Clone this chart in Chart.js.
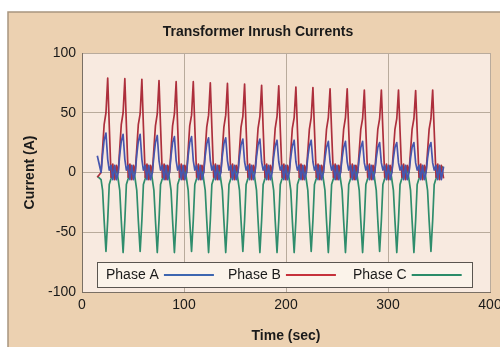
<!DOCTYPE html>
<html>
<head>
<meta charset="utf-8">
<script src="https://cdn.jsdelivr.net/npm/chart.js@4.4.1/dist/chart.umd.min.js"></script>
<style>
  html, body { margin: 0; padding: 0; background: #fff; }
  canvas { display: block; }
</style>
</head>
<body>
<canvas id="chart-inrush" width="500" height="347"></canvas>
<script>
// Sample times (sec), one row per cycle
const timeSec = [
  15.0,
  18.7, 20.2, 21.7, 23.5, 25.2, 26.7, 28.5, 30.2, 32.0, 33.7,
  35.5, 37.0, 38.5, 40.3, 42.0, 43.5, 45.3, 47.0, 48.8, 50.5,
  52.2, 53.7, 55.2, 57.0, 58.7, 60.2, 62.0, 63.7, 65.5, 67.2,
  69.0, 70.5, 72.0, 73.8, 75.5, 77.0, 78.8, 80.5, 82.3, 84.0,
  85.8, 87.3, 88.8, 90.6, 92.3, 93.8, 95.6, 97.3, 99.1, 100.8,
  102.6, 104.1, 105.6, 107.4, 109.1, 110.6, 112.4, 114.1, 115.9, 117.6,
  119.3, 120.8, 122.3, 124.1, 125.8, 127.3, 129.1, 130.8, 132.6, 134.3,
  136.1, 137.6, 139.1, 140.9, 142.6, 144.1, 145.9, 147.6, 149.4, 151.1,
  152.9, 154.4, 155.9, 157.7, 159.4, 160.9, 162.7, 164.4, 166.2, 167.9,
  169.6, 171.1, 172.6, 174.4, 176.1, 177.6, 179.4, 181.1, 182.9, 184.6,
  186.4, 187.9, 189.4, 191.2, 192.9, 194.4, 196.2, 197.9, 199.7, 201.4,
  203.2, 204.7, 206.2, 208.0, 209.7, 211.2, 213.0, 214.7, 216.5, 218.2,
  219.9, 221.4, 222.9, 224.7, 226.4, 227.9, 229.7, 231.4, 233.2, 234.9,
  236.7, 238.2, 239.7, 241.5, 243.2, 244.7, 246.5, 248.2, 250.0, 251.7,
  253.5, 255.0, 256.5, 258.3, 260.0, 261.5, 263.3, 265.0, 266.8, 268.5,
  270.3, 271.8, 273.3, 275.1, 276.8, 278.3, 280.1, 281.8, 283.6, 285.3,
  287.0, 288.5, 290.0, 291.8, 293.5, 295.0, 296.8, 298.5, 300.3, 302.0,
  303.8, 305.3, 306.8, 308.6, 310.3, 311.8, 313.6, 315.3, 317.1, 318.8,
  320.6, 322.1, 323.6, 325.4, 327.1, 328.6, 330.4, 332.1, 333.9, 335.6,
  337.3, 338.8, 340.3, 342.1, 343.8, 345.3, 347.1, 348.8, 350.6, 352.3,
  354.5
];

// Phase A (A)
const phaseA = [
  14,
  0, 15, 27, 33, 11, 2, 6, -6, 6, -6,
  0, 15, 26, 32, 11, 2, 6, -6, 6, -6,
  0, 15, 26, 32, 11, 2, 6, -6, 6, -6,
  0, 14, 25, 31, 10, 2, 6, -6, 6, -6,
  0, 14, 25, 30, 10, 2, 6, -6, 6, -6,
  0, 14, 25, 30, 10, 2, 6, -6, 6, -6,
  0, 14, 24, 29, 10, 2, 6, -6, 6, -6,
  0, 14, 24, 29, 10, 2, 6, -6, 6, -6,
  0, 13, 23, 28, 9, 2, 6, -6, 6, -6,
  0, 13, 23, 28, 9, 2, 6, -6, 6, -6,
  0, 13, 22, 27, 9, 2, 6, -6, 6, -6,
  0, 13, 22, 27, 9, 2, 6, -6, 6, -6,
  0, 13, 22, 27, 9, 2, 6, -6, 6, -6,
  0, 12, 21, 26, 9, 2, 6, -6, 6, -6,
  0, 12, 21, 26, 9, 2, 6, -6, 6, -6,
  0, 12, 21, 26, 8, 2, 6, -6, 6, -6,
  0, 12, 21, 25, 8, 2, 6, -6, 6, -6,
  0, 12, 21, 25, 8, 2, 6, -6, 6, -6,
  0, 12, 21, 25, 8, 2, 6, -6, 6, -6,
  0, 12, 21, 25, 8, 2, 6, -6, 6, -6,
  5
];

// Phase B (A)
const phaseB = [
  -4,
  0, 20, 40, 50, 79, 40, -4, 7, -6, 6,
  0, 20, 40, 50, 78.5, 40, -4, 7, -6, 6,
  0, 20, 40, 49, 78, 39, -4, 7, -6, 6,
  0, 20, 39, 49, 77, 39, -4, 7, -6, 6,
  0, 19, 39, 49, 76, 38, -4, 7, -6, 6,
  0, 19, 39, 48, 76, 38, -4, 7, -6, 6,
  0, 19, 38, 48, 75, 38, -4, 7, -6, 6,
  0, 19, 38, 48, 74.5, 37, -4, 7, -6, 6,
  0, 19, 38, 47, 74, 37, -4, 7, -6, 6,
  0, 18, 37, 47, 73, 37, -4, 7, -6, 6,
  0, 18, 37, 47, 72.5, 36, -4, 7, -6, 6,
  0, 18, 37, 46, 71.5, 36, -4, 7, -6, 6,
  0, 18, 36, 46, 71, 36, -4, 7, -6, 6,
  0, 18, 36, 46, 70, 35, -4, 7, -6, 6,
  0, 18, 36, 46, 70, 35, -4, 7, -6, 6,
  0, 18, 36, 45, 69, 35, -4, 7, -6, 6,
  0, 18, 36, 45, 69, 35, -4, 7, -6, 6,
  0, 18, 36, 45, 69, 35, -4, 7, -6, 6,
  0, 18, 36, 45, 68.5, 35, -4, 7, -6, 6,
  0, 18, 36, 45, 69, 35, -4, 7, -6, 6,
  -5
];

// Phase C (A)
const phaseC = [
  -3,
  -6, -15, -40, -66, -40, -10, -5, 5, -5, 5,
  -6, -15, -40, -67, -40, -10, -5, 5, -5, 5,
  -6, -15, -40, -66, -40, -10, -5, 5, -5, 5,
  -6, -15, -40, -67, -40, -10, -5, 5, -5, 5,
  -6, -15, -40, -67, -40, -10, -5, 5, -5, 5,
  -6, -15, -40, -66, -40, -10, -5, 5, -5, 5,
  -6, -15, -40, -67, -40, -10, -5, 5, -5, 5,
  -6, -15, -40, -67, -40, -10, -5, 5, -5, 5,
  -6, -15, -40, -66, -40, -10, -5, 5, -5, 5,
  -6, -15, -40, -67, -40, -10, -5, 5, -5, 5,
  -6, -15, -40, -67, -40, -10, -5, 5, -5, 5,
  -6, -15, -40, -67, -40, -10, -5, 5, -5, 5,
  -6, -15, -40, -66, -40, -10, -5, 5, -5, 5,
  -6, -15, -40, -67, -40, -10, -5, 5, -5, 5,
  -6, -15, -40, -67, -40, -10, -5, 5, -5, 5,
  -6, -15, -40, -67, -40, -10, -5, 5, -5, 5,
  -6, -15, -40, -66, -40, -10, -5, 5, -5, 5,
  -6, -15, -40, -67, -40, -10, -5, 5, -5, 5,
  -6, -15, -40, -67, -40, -10, -5, 5, -5, 5,
  -6, -15, -40, -66, -40, -10, -5, 5, -5, 5,
  4
];

const seriesLabels = ['Phase A', 'Phase B', 'Phase C'];
const xTicks = [0, 100, 200, 300, 400];
const yTicks = [-100, -50, 0, 50, 100];

const COLORS = {
  panel: '#ecd1b1',
  panelEdge: '#a8957f',
  plot: '#f8eae0',
  grid: '#b9ab9c',
  axis: '#7a6f64',
  text: '#1a1a1a',
  phaseA: '#4656ae',
  phaseB: '#ad2f3c',
  phaseC: '#2f8d6c',
  legendA: '#3d66b0',
  legendB: '#c6313b',
  legendC: '#2a8c69',
};

const toPoints = vals => timeSec.map((t, i) => ({ x: t, y: vals[i] }));

// ── backgrounds: tan panel + cream plot area ──────────────────────
const backgroundPlugin = {
  id: 'panelBackground',
  beforeDraw(chart) {
    const { ctx, chartArea: a } = chart;
    ctx.save();
    ctx.fillStyle = COLORS.panel;
    ctx.fillRect(8, 12, chart.width - 8, chart.height - 12);
    ctx.strokeStyle = COLORS.panelEdge;
    ctx.lineWidth = 1.5;
    ctx.beginPath();
    ctx.moveTo(8, chart.height);
    ctx.lineTo(8, 12);
    ctx.lineTo(chart.width, 12);
    ctx.stroke();
    ctx.fillStyle = COLORS.plot;
    ctx.fillRect(a.left, a.top, a.right - a.left, a.bottom - a.top);
    ctx.restore();
  },
};

// ── boxed legend, label first then line sample ────────────────────
const boxedLegendPlugin = {
  id: 'boxedLegend',
  afterDatasetsDraw(chart) {
    const { ctx } = chart;
    const left = 97, top = 262, width = 375, height = 25;
    ctx.save();
    ctx.fillStyle = '#fbf3ea';
    ctx.fillRect(left, top, width, height);
    ctx.strokeStyle = '#5a5550';
    ctx.lineWidth = 1;
    ctx.strokeRect(left + 0.5, top + 0.5, width, height);
    ctx.font = '14px "Liberation Sans", Arial, sans-serif';
    ctx.textBaseline = 'middle';
    const cy = top + height / 2 + 0.5;
    const swatches = [COLORS.legendA, COLORS.legendB, COLORS.legendC];
    const starts = [106, 228, 353];
    chart.data.datasets.forEach((ds, i) => {
      const x = starts[i];
      ctx.fillStyle = COLORS.text;
      ctx.fillText(ds.label, x, cy);
      const w = ctx.measureText(ds.label).width;
      ctx.strokeStyle = swatches[i];
      ctx.lineWidth = 2;
      ctx.beginPath();
      ctx.moveTo(x + w + 5, cy);
      ctx.lineTo(x + w + 55, cy);
      ctx.stroke();
    });
    ctx.restore();
  },
};

const FONT = '"Liberation Sans", Arial, sans-serif';

new Chart(document.getElementById('chart-inrush'), {
  type: 'line',
  data: {
    datasets: [
      { label: seriesLabels[0], data: toPoints(phaseA), borderColor: COLORS.phaseA },
      { label: seriesLabels[1], data: toPoints(phaseB), borderColor: COLORS.phaseB },
      { label: seriesLabels[2], data: toPoints(phaseC), borderColor: COLORS.phaseC },
    ],
  },
  options: {
    responsive: false,
    animation: false,
    elements: {
      line: { borderWidth: 1.7, tension: 0, borderJoinStyle: 'round' },
      point: { radius: 0 },
    },
    layout: { padding: { top: 14, right: 10, bottom: 0, left: 26 } },
    plugins: {
      legend: { display: false },
      tooltip: { enabled: false },
      title: {
        display: true,
        text: 'Transformer Inrush Currents',
        color: COLORS.text,
        font: { family: FONT, size: 14, weight: 'bold' },
        padding: { top: 10, bottom: 12.2 },
      },
    },
    scales: {
      x: {
        type: 'linear',
        min: xTicks[0],
        max: xTicks[xTicks.length - 1],
        afterBuildTicks: s => { s.ticks = xTicks.map(v => ({ value: v })); },
        afterFit: s => { s.height = 55; s.paddingRight = 10; },
        ticks: { color: COLORS.text, font: { family: FONT, size: 14 }, padding: 5, maxRotation: 0 },
        grid: { color: COLORS.grid, drawTicks: false },
        border: { color: COLORS.axis },
        title: {
          display: true,
          text: 'Time (sec)',
          color: COLORS.text,
          font: { family: FONT, size: 14, weight: 'bold' },
          padding: { top: 4, bottom: 2 },
        },
      },
      y: {
        min: yTicks[0],
        max: yTicks[yTicks.length - 1],
        afterBuildTicks: s => { s.ticks = yTicks.map(v => ({ value: v })); },
        afterFit: s => { s.width = 56; },
        ticks: { color: COLORS.text, font: { family: FONT, size: 14 }, padding: 6 },
        grid: { color: COLORS.grid, drawTicks: false },
        border: { color: COLORS.axis },
        title: {
          display: true,
          text: 'Current (A)',
          color: COLORS.text,
          font: { family: FONT, size: 14, weight: 'bold' },
          padding: { top: -4.4, bottom: 0 },
        },
      },
    },
  },
  plugins: [backgroundPlugin, boxedLegendPlugin],
});
</script>
</body>
</html>
